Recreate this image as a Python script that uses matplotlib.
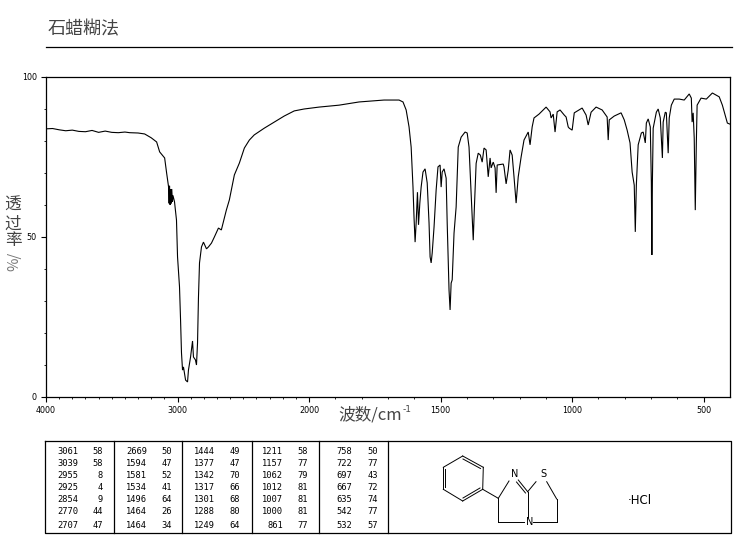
"""IR spectrum, paraffin mull, with peak table and structure."""

import matplotlib

matplotlib.use("Agg")
import matplotlib.pyplot as plt
import numpy as np

CJK = ["Noto Sans CJK SC", "DejaVu Sans"]
GREY = "#444444"

wavenumber = [
    4000, 3950, 3900, 3850, 3800, 3750, 3700, 3650, 3600, 3550, 3500, 3450, 3400, 3364, 3300, 3250,
    3200, 3159, 3136, 3098, 3083, 3068, 3064, 3061, 3056, 3052, 3048, 3044, 3039, 3035, 3023, 3008,
    3000, 2985, 2977, 2970, 2962, 2955, 2939, 2924, 2917, 2901, 2886, 2879, 2864, 2856, 2848, 2841,
    2833, 2818, 2803, 2780, 2765, 2742, 2720, 2689, 2667, 2629, 2606, 2568, 2530, 2492, 2454, 2417,
    2341, 2265, 2189, 2113, 2038, 1962, 1886, 1810, 1715, 1658, 1643, 1631, 1620, 1612, 1605, 1601,
    1597, 1593, 1588, 1584, 1579, 1574, 1567, 1559, 1551, 1544, 1540, 1536, 1532, 1525, 1517, 1510,
    1502, 1498, 1494, 1487, 1479, 1475, 1468, 1464, 1460, 1456, 1449, 1441, 1433, 1422, 1407, 1399,
    1392, 1384, 1376, 1372, 1365, 1357, 1349, 1342, 1335, 1327, 1319, 1312, 1308, 1300, 1293, 1289,
    1285, 1262, 1259, 1251, 1243, 1236, 1228, 1221, 1213, 1205, 1194, 1183, 1167, 1160, 1152, 1145,
    1126, 1099, 1084, 1080, 1072, 1065, 1057, 1046, 1030, 1023, 1015, 1011, 1000, 992, 962, 947,
    939, 928, 909, 886, 867, 863, 859, 840, 814, 802, 791, 780, 772, 764, 760, 756,
    749, 737, 730, 722, 718, 711, 703, 699, 697, 695, 692, 680, 673, 665, 657, 654,
    646, 642, 635, 631, 623, 612, 593, 574, 555, 547, 544, 540, 536, 532, 528, 525,
    510, 490, 467, 441, 429, 410, 401,
]
transmittance = [
    83.8, 83.9, 83.5, 83.2, 83.4, 83.0, 82.9, 83.3, 82.7, 83.1, 82.7, 82.6, 82.8, 82.6, 82.5, 82.2,
    81.0, 79.7, 76.6, 74.7, 70.0, 65.6, 60.5, 66.0, 60.0, 65.0, 60.5, 65.0, 61.0, 63.0, 61.0, 55.3,
    43.8, 34.4, 24.0, 13.8, 8.4, 9.4, 5.3, 4.7, 8.4, 12.5, 17.5, 12.5, 11.6, 10.0, 16.9, 31.0,
    41.9, 46.9, 48.4, 46.3, 46.9, 48.1, 50.0, 52.8, 52.2, 58.4, 61.6, 69.4, 73.1, 77.8, 80.3, 81.9,
    84.0, 85.9, 87.8, 89.4, 90.0, 90.6, 91.2, 92.2, 92.8, 92.8, 92.2, 89.7, 84.4, 78.1, 65.6, 56.0,
    48.4, 54.4, 64.0, 53.8, 60.6, 65.6, 70.3, 71.3, 66.9, 54.4, 43.8, 41.9, 45.0, 53.1, 64.7, 71.9,
    72.5, 65.6, 70.3, 71.3, 68.4, 54.4, 33.4, 27.2, 35.6, 36.6, 51.2, 59.4, 78.1, 81.2, 82.8, 82.5,
    78.1, 63.8, 49.0, 58.4, 73.0, 76.2, 75.6, 73.4, 77.8, 77.2, 68.8, 74.7, 71.6, 73.4, 71.6, 63.8,
    72.5, 72.8, 71.9, 66.6, 70.9, 77.2, 75.6, 68.8, 60.6, 68.8, 75.0, 80.3, 82.8, 78.8, 84.4, 87.2,
    88.4, 90.6, 89.1, 87.2, 88.4, 82.8, 89.1, 89.7, 88.1, 87.5, 84.4, 84.0, 83.4, 88.8, 90.3, 88.1,
    85.0, 89.0, 90.6, 89.7, 87.5, 80.3, 86.6, 87.8, 88.8, 86.6, 83.4, 79.4, 70.3, 66.2, 51.6, 66.2,
    78.8, 82.5, 82.8, 79.4, 85.6, 86.9, 84.4, 67.2, 44.4, 67.2, 84.0, 89.0, 90.0, 87.2, 74.7, 85.9,
    89.0, 88.8, 76.2, 87.2, 91.2, 93.1, 93.1, 92.8, 94.7, 93.4, 85.9, 88.8, 80.9, 58.4, 79.4, 91.2,
    93.4, 93.1, 95.0, 93.8, 91.2, 85.6, 85.3,
]

x_major = [4000, 3000, 2000, 1500, 1000, 500]
y_major = [0, 50, 100]

peak_wn = [
    ["3061", "3039", "2955", "2925", "2854", "2770", "2707"],
    ["2669", "1594", "1581", "1534", "1496", "1464", "1464"],
    ["1444", "1377", "1342", "1317", "1301", "1288", "1249"],
    ["1211", "1157", "1062", "1012", "1007", "1000", "861"],
    ["758", "722", "697", "667", "635", "542", "532"],
]
peak_t = [
    ["58", "58", "8", "4", "9", "44", "47"],
    ["50", "47", "52", "41", "64", "26", "34"],
    ["49", "47", "70", "66", "68", "80", "64"],
    ["58", "77", "79", "81", "81", "81", "77"],
    ["50", "77", "43", "72", "74", "77", "57"],
]


def squeeze(x):
    x = np.asarray(x, dtype=float)
    return np.where(x <= 2000, x, 2000 + (x - 2000) / 2)


def unsqueeze(x):
    x = np.asarray(x, dtype=float)
    return np.where(x <= 2000, x, 2000 + (x - 2000) * 2)


fig = plt.figure(figsize=(7.37, 5.39), dpi=100)
W, H = 737, 539

# spectrum axes: the scale changes at 2000 cm-1
ax = fig.add_axes([46 / W, 1 - 397 / H, 684 / W, 320 / H])
ax.set_xscale("function", functions=(squeeze, unsqueeze))
ax.plot(wavenumber, transmittance, color="black", lw=0.8, solid_joinstyle="miter")
ax.set_xlim(4000, 400)
ax.set_ylim(0, 100)
ax.set_xticks(x_major)
ax.set_xticklabels([str(v) for v in x_major])
ax.set_xticks(np.arange(500, 4000, 100), minor=True)
ax.set_yticks(y_major)
ax.set_yticks(np.arange(0, 101, 10), minor=True)
ax.tick_params(which="major", length=3.6, width=0.8, labelsize=5.8, pad=3)
ax.tick_params(which="minor", length=1.6, width=0.6)
for spine in ax.spines.values():
    spine.set_linewidth(0.9)

# everything else is placed in pixel coordinates on an overlay
page = fig.add_axes([0, 0, 1, 1])
page.set_xlim(0, W)
page.set_ylim(H, 0)
page.axis("off")
page.patch.set_alpha(0)

page.text(48, 29, "石蜡糊法", family=CJK, fontsize=13, color=GREY, va="center", ha="left")
page.plot([46, 732], [47, 47], color="black", lw=0.9)

for label, y in zip("透过率", [205, 224, 241]):
    page.text(13, y, label, family=CJK, fontsize=12, color=GREY, ha="center", va="center")
page.text(14, 261, "%/", family=CJK, fontsize=10.5, color="#777777", rotation=90, ha="center", va="center")

page.text(338, 415, "波数/cm", family=CJK, fontsize=12, color=GREY, ha="left", va="center")
page.text(403, 410, "-1", fontsize=6.5, color=GREY, ha="left", va="center")

# peak table
page.plot([45, 731, 731, 45, 45], [441, 441, 533, 533, 441], color="black", lw=0.9)
for x in [114, 182, 252, 319, 388]:
    page.plot([x, x], [441, 533], color="black", lw=0.9)

row_y = [451, 463, 475, 487.5, 500, 512, 525]
wn_right = [78, 147, 215, 283, 352]
t_right = [103, 172, 240, 308, 378]
for col in range(5):
    for row in range(7):
        page.text(wn_right[col], row_y[row], peak_wn[col][row], family="DejaVu Sans Mono",
                  fontsize=6.3, ha="right", va="center")
        page.text(t_right[col], row_y[row], peak_t[col][row], family="DejaVu Sans Mono",
                  fontsize=6.3, ha="right", va="center")

# structure
bonds = [
    ((462.7, 456), (483.3, 467.3)), ((483.3, 467.3), (482.7, 489.3)), ((482.7, 489.3), (462.7, 501)),
    ((462.7, 501), (443.3, 489.3)), ((443.3, 489.3), (443.3, 467.3)), ((443.3, 467.3), (462.7, 456)),
    ((463, 459), (480.5, 468.5)), ((480, 488), (463, 498)), ((445.5, 487), (445.5, 469)),
    ((482.7, 489.3), (498.3, 498.3)), ((498.3, 498.3), (509, 481)),
    ((518.3, 480), (527.7, 491.7)), ((516.5, 482), (525.5, 493)),
    ((527.7, 491.7), (536, 481.7)), ((546.7, 481.7), (556.7, 499)), ((556.7, 499), (556.7, 522.3)),
    ((556.7, 522.3), (533.3, 522.3)), ((527.7, 491.7), (527.7, 517.3)),
    ((498.3, 498.3), (498.3, 522.3)), ((498.3, 522.3), (524, 522.3)),
]
for start, end in bonds:
    page.plot([start[0], end[0]], [start[1], end[1]], color="black", lw=0.7)
for label, x, y in [("N", 515, 474), ("S", 543.3, 474), ("N", 529.3, 522.3)]:
    page.text(x, y, label, fontsize=7, ha="center", va="center")
page.text(628, 500.5, "·HCl", fontsize=8.5, ha="left", va="center")

fig.savefig("out.png", dpi=100)
